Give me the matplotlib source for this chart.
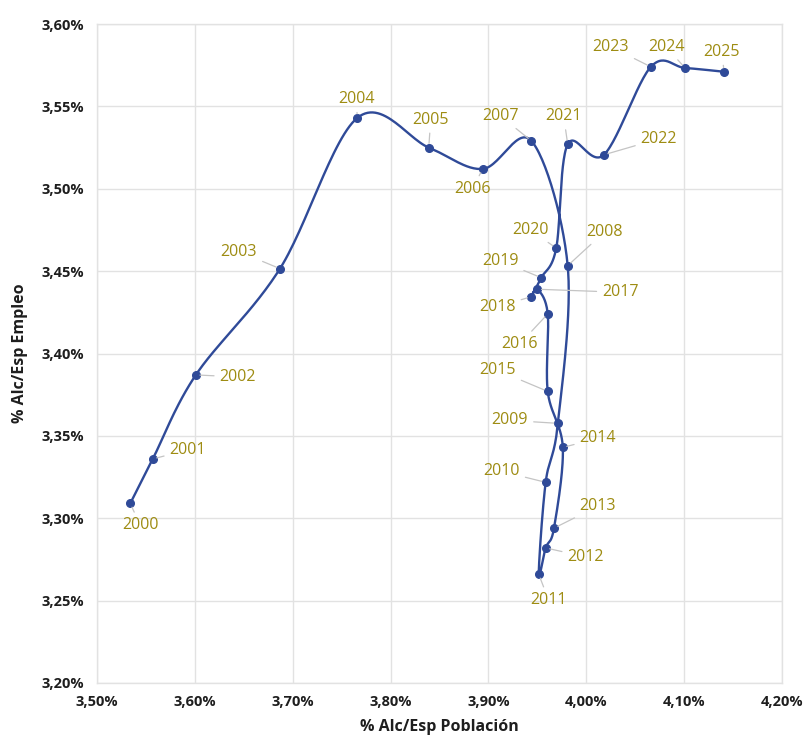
import numpy as np
import matplotlib
matplotlib.use("Agg")
import matplotlib.pyplot as plt
from matplotlib.ticker import FuncFormatter

years = list(range(2000, 2026))
x_pob = [3.534, 3.557, 3.601, 3.687, 3.766, 3.839, 3.894, 3.944, 3.981, 3.971,
         3.9585, 3.9514, 3.9585, 3.967, 3.976, 3.9606, 3.9606, 3.950, 3.944, 3.954,
         3.9693, 3.981, 4.018, 4.066, 4.101, 4.141]
y_emp = [3.309, 3.336, 3.387, 3.4515, 3.543, 3.525, 3.512, 3.529, 3.4533, 3.3576,
         3.3218, 3.266, 3.282, 3.294, 3.343, 3.377, 3.424, 3.439, 3.4345, 3.446,
         3.464, 3.527, 3.5206, 3.574, 3.5733, 3.571]

# label offsets in pixels (dx, dy), y up
label_off = {
    2000: (10, -22), 2001: (35, 9), 2002: (42, -2), 2003: (-41, 17), 2004: (-1, 19),
    2005: (2, 28), 2006: (-10, -20), 2007: (-31, 25), 2008: (37, 34), 2009: (-48, 3),
    2010: (-44, 11), 2011: (10, -26), 2012: (40, -9), 2013: (44, 22), 2014: (35, 9),
    2015: (-50, 21), 2016: (-28, -30), 2017: (83, -3), 2018: (-34, -10), 2019: (-41, 17),
    2020: (-26, 18), 2021: (-4, 28), 2022: (55, 16), 2023: (-40, 20), 2024: (-19, 21),
    2025: (-3, 20),
}

LINE_C = "#2F4A98"
LABEL_C = "#9E8C12"
GRID_C = "#E2E2E2"
TXT_C = "#1E1E1E"

fig = plt.figure(figsize=(8.12, 7.38), dpi=100)
ax = fig.add_axes([97 / 812, 1 - 683 / 738, 685 / 812, 659 / 738])
ax.set_xlim(3.5, 4.2)
ax.set_ylim(3.2, 3.6)
ax.set_xticks(np.arange(3.5, 4.201, 0.1))
ax.set_yticks(np.arange(3.2, 3.601, 0.05))
ax.xaxis.set_major_formatter(FuncFormatter(lambda v, p: f"{v:.2f}%".replace(".", ",")))
ax.yaxis.set_major_formatter(FuncFormatter(lambda v, p: f"{v:.2f}%".replace(".", ",")))
ax.grid(True, color=GRID_C, linewidth=1.0)
ax.set_axisbelow(True)
for s in ax.spines.values():
    s.set_color(GRID_C)
    s.set_linewidth(1.0)
ax.tick_params(length=0, pad=9, labelsize=10.5, labelcolor=TXT_C)
for lab in ax.get_xticklabels() + ax.get_yticklabels():
    lab.set_fontweight("bold")
    lab.set_family("Open Sans")

# smoothed line (Catmull-Rom in display space, like Excel smoothing)
fig.canvas.draw()
pts = ax.transData.transform(np.column_stack([x_pob, y_emp]))
P = np.vstack([pts[0], pts, pts[-1]])
curve = []
t = np.linspace(0, 1, 30)[:, None]
for i in range(1, len(P) - 2):
    p0, p1, p2, p3 = P[i - 1], P[i], P[i + 1], P[i + 2]
    c1 = p1 + (p2 - p0) / 6
    c2 = p2 - (p3 - p1) / 6
    seg = ((1 - t) ** 3) * p1 + 3 * ((1 - t) ** 2) * t * c1 + 3 * (1 - t) * t ** 2 * c2 + t ** 3 * p2
    curve.append(seg)
curve = np.vstack(curve)
curve_d = ax.transData.inverted().transform(curve)
ax.plot(curve_d[:, 0], curve_d[:, 1], color=LINE_C, lw=1.7, zorder=3)
ax.plot(x_pob, y_emp, "o", color=LINE_C, ms=5.5, zorder=4)

for yr, xv, yv in zip(years, x_pob, y_emp):
    dx, dy = label_off[yr]
    ax.annotate(str(yr), (xv, yv), xytext=(dx, dy), textcoords="offset pixels",
                ha="center", va="center", fontsize=11.5, color=LABEL_C, family="Open Sans",
                fontweight="medium",
                arrowprops=dict(arrowstyle="-", color="#C4C4C4", lw=0.9, shrinkA=2, shrinkB=3),
                zorder=5)

ax.set_xlabel("% Alc/Esp Población", fontsize=11.5, fontweight="bold", family="Open Sans",
              color=TXT_C, labelpad=7)
ax.set_ylabel("% Alc/Esp Empleo", fontsize=11.5, fontweight="bold", family="Open Sans",
              color=TXT_C, labelpad=10)

fig.savefig("out.png", dpi=100)
